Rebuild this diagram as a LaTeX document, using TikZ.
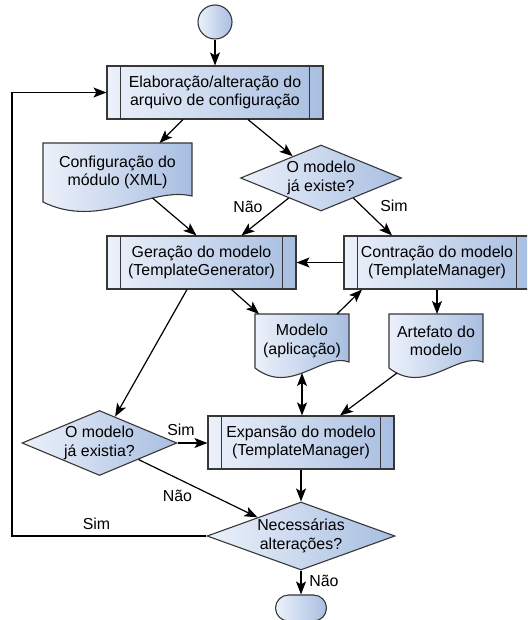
\documentclass[tikz,border=0pt]{standalone}
\usepackage{fontspec}
\setmainfont{Liberation Sans}
\usetikzlibrary{arrows.meta,shapes.geometric,calc,backgrounds}
\definecolor{fillL}{RGB}{236,241,250}
\definecolor{fillR}{RGB}{168,190,225}
\definecolor{edge}{RGB}{55,55,55}

% document symbol with a wavy lower edge, drawn around the (invisible) node #1
\newcommand\docshape[1]{%
  \path[shapeline,grad] (#1.north west) -- (#1.north east)
    -- ($(#1.south east)+(0pt,6pt)$)
    .. controls ($(#1.south west)!0.72!(#1.south east)+(0pt,16pt)$)
       and ($(#1.south west)!0.38!(#1.south east)+(0pt,-28pt)$)
    .. (#1.south west) -- cycle;}

\begin{document}
\begin{tikzpicture}[x=1pt,y=-1pt,
  >={Stealth[length=13pt,width=10pt,inset=3pt]},
  font=\fontsize{15.9pt}{18.4pt}\selectfont,
  shapeline/.style={draw=edge,line width=1.1pt},
  grad/.style={left color=fillL,right color=fillR},
  subproc/.style={shapeline,grad,rectangle,minimum height=53pt,inner sep=0pt,align=center},
  decision/.style={shapeline,grad,diamond,inner sep=0pt,align=center},
  docbox/.style={rectangle,inner sep=0pt,outer sep=0pt,align=center},
  conn/.style={draw=black,line width=1.2pt,->},
  lbl/.style={inner sep=0pt},
]
\useasboundingbox (0,0) rectangle (527,620);
\clip (0,0) rectangle (527,620);

% ---- shapes
\node[shapeline,grad,circle,minimum size=34pt,inner sep=0pt] (start) at (215,22) {};
\node[subproc,minimum width=216pt] (elab) at (215,92.5) {Elaboração/alteração do\\arquivo de configuração};
\node[docbox,minimum width=149pt,minimum height=59pt] (cfg) at (117.5,172.5) {Configuração do\\módulo (XML)};
\node[decision,aspect=2.4,minimum width=161pt,minimum height=66pt] (q1) at (321,178) {O modelo\\já existe?};
\node[subproc,minimum width=189pt] (gen) at (201.5,262.5) {Geração do modelo\\(TemplateGenerator)};
\node[subproc,minimum width=186pt] (con) at (437,262.5) {Contração do modelo\\(TemplateManager)};
\node[docbox,minimum width=94pt,minimum height=54pt] (mod) at (302,341) {Modelo\\(aplicação)};
\node[docbox,minimum width=94pt,minimum height=54pt] (art) at (436,341) {Artefato do\\modelo};
\node[decision,aspect=2.4,minimum width=155pt,minimum height=65pt] (q2) at (99.5,443) {O modelo\\já existia?};
\node[subproc,minimum width=186pt] (exp) at (301,442.5) {Expansão do modelo\\(TemplateManager)};
\node[decision,aspect=2.8,minimum width=188pt,minimum height=68pt] (q3) at (301,536) {Necessárias\\alterações?};
\node[shapeline,grad,rectangle,rounded corners=13pt,minimum width=51pt,minimum height=26pt,inner sep=0pt] (stop) at (301,608) {};

% side bars of the predefined-process boxes
\foreach \n in {elab,gen,con,exp}{
  \draw[shapeline] ([xshift=14pt]\n.north west) -- ([xshift=14pt]\n.south west)
                   ([xshift=-14pt]\n.north east) -- ([xshift=-14pt]\n.south east);}

\begin{scope}[on background layer]
  \docshape{cfg}
  \docshape{mod}
  \docshape{art}
\end{scope}

% ---- connectors
\draw[conn] (start) -- (elab);
\draw[conn] ([xshift=-32pt]elab.south) -- ([xshift=42pt]cfg.north);
\draw[conn] ([xshift=33pt]elab.south) -- ($(q1.west)!0.65!(q1.north)$);
\draw[conn] ([xshift=35pt,yshift=4pt]cfg.south) -- ([xshift=-5pt]gen.north);
\draw[conn] ($(q1.west)!0.6!(q1.south)$) -- ([xshift=40pt]gen.north);
\draw[conn] ($(q1.east)!0.6!(q1.south)$) -- ([xshift=-45pt]con.north);
\draw[conn] (con.west) -- (gen.east);
\draw[conn] ([xshift=30pt]gen.south) -- ([xshift=-43pt]mod.north);
\draw[conn] ([xshift=35pt]mod.north) -- ([xshift=-75pt]con.south);
\draw[conn] (con.south) -- (con.south |- art.north);
\draw[conn] ([xshift=-14.5pt]gen.south) -- ($(q2.north)!0.2!(q2.east)$);
\draw[conn] (q2.east) -- (q2.east -| exp.west);
\draw[conn,<->] ([yshift=-5pt]mod.south) -- (mod.south |- exp.north);
\draw[conn] ([xshift=8pt,yshift=-5pt]art.south west) -- ([xshift=39pt]exp.north);
\draw[conn] (exp) -- (q3);
\draw[conn] ($(q2.east)!0.5!(q2.south)$) -- ($(q3.west)!0.54!(q3.north)$);
\coordinate (fb) at (12,536);
\draw[conn] (q3.west) -- (fb) |- (elab.west);
\draw[conn] (q3) -- (stop);

% ---- branch labels
\node[lbl] (lNao1) at (248,207) {Não};
\node[lbl] (lSim1) at (394,206) {Sim};
\node[lbl] (lSim2) at (181,430) {Sim};
\node[lbl] (lNao2) at (177.5,496) {Não};
\node[lbl] (lSim3) at (96.5,524) {Sim};
\node[lbl] (lNao3) at (324,581) {Não};
\end{tikzpicture}
\end{document}
